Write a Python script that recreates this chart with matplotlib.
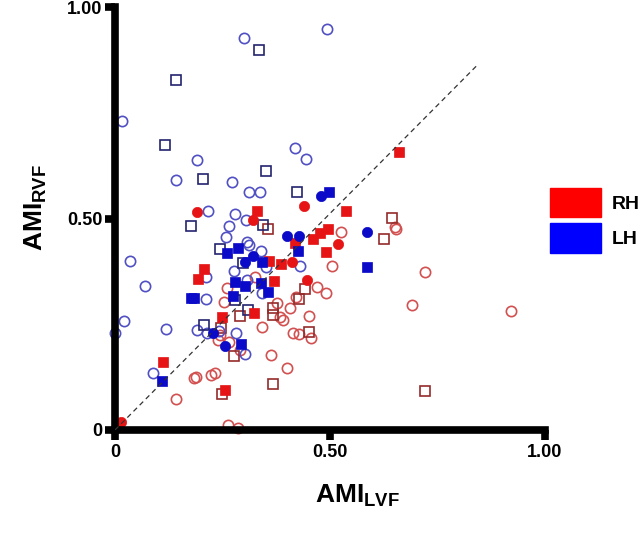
import matplotlib
matplotlib.use('Agg')
import matplotlib.pyplot as plt
from matplotlib.patches import Patch

plt.rcParams['font.family'] = ['Liberation Sans', 'DejaVu Sans']
plt.rcParams['font.weight'] = 'bold'

# AMI values: (LVF, RVF) per category
# LH (blue)
lh_open_circle_x = [0.492, 0.299, 0.017, 0.191, 0.143, 0.273, 0.311, 0.338, 0.418, 0.444,
                    0.217, 0.278, 0.304, 0.266, 0.259, 0.307, 0.312, 0.340, 0.351, 0.430,
                    0.034, 0.069, 0.212, 0.276, 0.308, 0.342, 0.212, 0.020, 0.000, 0.118,
                    0.191, 0.214, 0.282, 0.243, 0.303, 0.088]
lh_open_circle_y = [0.948, 0.927, 0.730, 0.638, 0.591, 0.587, 0.563, 0.563, 0.666, 0.641,
                    0.517, 0.510, 0.496, 0.482, 0.456, 0.445, 0.437, 0.424, 0.386, 0.388,
                    0.400, 0.340, 0.361, 0.376, 0.355, 0.323, 0.310, 0.258, 0.230, 0.238,
                    0.236, 0.230, 0.230, 0.235, 0.180, 0.134]
lh_filled_circle_x = [0.478, 0.400, 0.428, 0.321, 0.303, 0.227, 0.256, 0.587]
lh_filled_circle_y = [0.553, 0.459, 0.459, 0.411, 0.396, 0.230, 0.199, 0.469]
lh_open_square_x = [0.336, 0.142, 0.116, 0.204, 0.352, 0.423, 0.177, 0.345, 0.245, 0.297,
                    0.280, 0.309, 0.206]
lh_open_square_y = [0.898, 0.827, 0.674, 0.593, 0.613, 0.562, 0.482, 0.485, 0.427, 0.394,
                    0.307, 0.284, 0.248]
lh_filled_square_x = [0.497, 0.426, 0.260, 0.285, 0.343, 0.280, 0.303, 0.340, 0.355, 0.176,
                      0.184, 0.274, 0.294, 0.110, 0.585]
lh_filled_square_y = [0.562, 0.423, 0.419, 0.430, 0.396, 0.351, 0.341, 0.347, 0.327, 0.311,
                      0.313, 0.317, 0.203, 0.117, 0.386]

# RH (red)
rh_open_circle_x = [0.525, 0.653, 0.650, 0.505, 0.326, 0.469, 0.491, 0.421, 0.260, 0.254,
                    0.376, 0.407, 0.384, 0.390, 0.452, 0.341, 0.245, 0.239, 0.266, 0.415,
                    0.429, 0.455, 0.291, 0.362, 0.401, 0.183, 0.188, 0.224, 0.232, 0.143,
                    0.263, 0.286, 0.721, 0.690, 0.922]
rh_open_circle_y = [0.467, 0.474, 0.481, 0.388, 0.362, 0.339, 0.323, 0.315, 0.335, 0.302,
                    0.300, 0.288, 0.268, 0.260, 0.270, 0.244, 0.225, 0.213, 0.208, 0.230,
                    0.227, 0.217, 0.189, 0.177, 0.146, 0.122, 0.126, 0.130, 0.135, 0.074,
                    0.013, 0.004, 0.374, 0.296, 0.282]
rh_filled_circle_x = [0.191, 0.440, 0.322, 0.519, 0.412, 0.447, 0.013]
rh_filled_circle_y = [0.515, 0.530, 0.496, 0.439, 0.396, 0.355, 0.020]
rh_open_square_x = [0.645, 0.355, 0.626, 0.443, 0.429, 0.368, 0.367, 0.290, 0.246, 0.452,
                    0.277, 0.367, 0.249, 0.722]
rh_open_square_y = [0.502, 0.474, 0.451, 0.333, 0.310, 0.289, 0.272, 0.270, 0.240, 0.232,
                    0.175, 0.108, 0.084, 0.093]
rh_filled_square_x = [0.331, 0.537, 0.661, 0.419, 0.461, 0.477, 0.495, 0.491, 0.357, 0.386,
                      0.206, 0.193, 0.370, 0.324, 0.249, 0.112, 0.255]
rh_filled_square_y = [0.518, 0.518, 0.657, 0.441, 0.451, 0.465, 0.474, 0.420, 0.400, 0.392,
                      0.380, 0.356, 0.352, 0.276, 0.268, 0.161, 0.095]

ticks = [0, 0.5, 1.0]
tick_labels = ['0', '0.50', '1.00']
legend_labels = ['RH', 'LH']

fig = plt.figure(figsize=(6.4, 5.35), dpi=100)
ax = fig.add_axes([115 / 640, 105 / 535, 430 / 640, 423 / 535])

ms = 7.4
ew = 1.2
kw = dict(linestyle='none', clip_on=False)

# open markers first, filled on top
ax.plot(rh_open_circle_x, rh_open_circle_y, marker='o', ms=ms, mfc='none',
        mec='#d25050', mew=ew, **kw)
ax.plot(rh_open_square_x, rh_open_square_y, marker='s', ms=ms, mfc='none',
        mec='#952a2a', mew=ew, **kw)
ax.plot(lh_open_circle_x, lh_open_circle_y, marker='o', ms=ms, mfc='none',
        mec='#5050c4', mew=ew, **kw)
ax.plot(lh_open_square_x, lh_open_square_y, marker='s', ms=ms, mfc='none',
        mec='#242470', mew=ew, **kw)
ax.plot(rh_filled_circle_x, rh_filled_circle_y, marker='o', ms=ms, mfc='#e61414',
        mec='#e61414', mew=0.5, **kw)
ax.plot(rh_filled_square_x, rh_filled_square_y, marker='s', ms=ms, mfc='#e61414',
        mec='#e61414', mew=0.5, **kw)
ax.plot(lh_filled_circle_x, lh_filled_circle_y, marker='o', ms=ms, mfc='#0a0ac8',
        mec='#0a0ac8', mew=0.5, **kw)
ax.plot(lh_filled_square_x, lh_filled_square_y, marker='s', ms=ms, mfc='#0a0ac8',
        mec='#0a0ac8', mew=0.5, **kw)

# identity line
ax.plot([0, 0.84], [0, 0.86], color='#333333', linestyle=(0, (4, 3)), lw=0.9, zorder=5)

ax.set_xlim(0, 1)
ax.set_ylim(0, 1)
ax.set_xticks(ticks)
ax.set_xticklabels(tick_labels)
ax.set_yticks(ticks)
ax.set_yticklabels(tick_labels)
ax.tick_params(axis='x', length=7, width=5.5, pad=3, labelsize=13, color='black')
ax.tick_params(axis='y', length=7, width=5.5, pad=2, labelsize=13, color='black')
for lab in ax.get_xticklabels() + ax.get_yticklabels():
    lab.set_fontweight('bold')

for side in ['top', 'right']:
    ax.spines[side].set_visible(False)
for side in ['left', 'bottom']:
    ax.spines[side].set_linewidth(5.5)
    ax.spines[side].set_capstyle('projecting')

fig.text(357 / 640, 1 - 496 / 535, r'AMI$_{\mathregular{LVF}}$', fontsize=19,
         fontweight='bold', ha='center', va='center')
fig.text(36 / 640, 1 - 208 / 535, r'AMI$_{\mathregular{RVF}}$', fontsize=19,
         fontweight='bold', ha='center', va='center', rotation=90)

handles = [Patch(facecolor='#ff0000', edgecolor='#ff0000'),
           Patch(facecolor='#0000ff', edgecolor='#0000ff')]
fig.legend(handles, legend_labels, loc='upper left',
           bbox_to_anchor=(550 / 640, 1 - 188 / 535), frameon=False,
           borderpad=0, borderaxespad=0, handlelength=2.6, handleheight=1.95,
           handletextpad=0.6, labelspacing=0.3,
           prop={'size': 14, 'weight': 'bold'})

fig.savefig('out.png', dpi=100)
